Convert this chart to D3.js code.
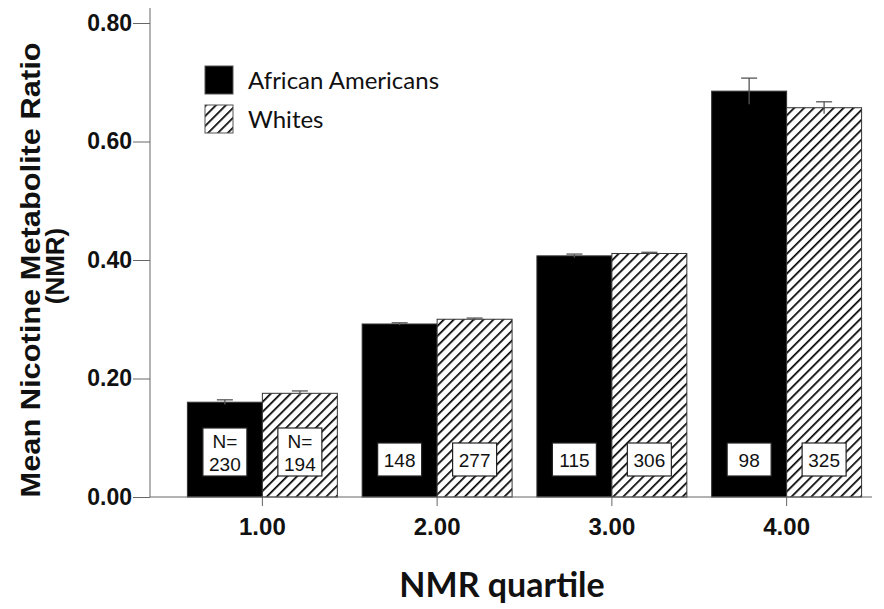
<!DOCTYPE html>
<html>
  <head>
    <meta charset="utf-8">
    <script src="https://cdn.jsdelivr.net/npm/d3@7"></script>
    <style>
      html, body { margin: 0; padding: 0; background: #fff; }
      svg { display: block; }
      .tick-label { font-family: "Liberation Sans", Arial, sans-serif; font-weight: bold; }
    </style>
  </head>
  <body>
    <svg width="884" height="609"></svg>
    <script>
      // data
      const quartiles = ["1.00", "2.00", "3.00", "4.00"];
      const series = ["African Americans", "Whites"];
      const meanAA = [0.160, 0.292, 0.407, 0.685];
      const meanW = [0.175, 0.300, 0.411, 0.657];
      const errAA = [0.004, 0.002, 0.003, 0.022];
      const errW = [0.004, 0.002, 0.002, 0.010];
      const nAA = [230, 148, 115, 98];
      const nW = [194, 277, 306, 325];
      const yTicks = [0, 0.2, 0.4, 0.6, 0.8];

      const rows = [];
      quartiles.forEach((q, i) => {
        rows.push({ q, s: series[0], mean: meanAA[i], err: errAA[i], n: nAA[i], first: i === 0 });
        rows.push({ q, s: series[1], mean: meanW[i], err: errW[i], n: nW[i], first: i === 0 });
      });

      const svg = d3.select("svg");
      const axisColor = "#666";

      const defs = svg.append("defs");
      const pat = defs.append("pattern")
        .attr("id", "hatch")
        .attr("patternUnits", "userSpaceOnUse")
        .attr("width", 7)
        .attr("height", 7)
        .attr("patternTransform", "rotate(45)");
      pat.append("rect").attr("width", 7).attr("height", 7).attr("fill", "#fff");
      pat.append("line")
        .attr("x1", 0).attr("y1", 0).attr("x2", 0).attr("y2", 7)
        .attr("stroke", "#000").attr("stroke-width", 3.4);

      const x = d3.scaleBand()
        .domain(quartiles)
        .range([175, 874])
        .paddingInner(0.142)
        .paddingOuter(0.071);
      const xs = d3.scaleBand().domain(series).range([0, x.bandwidth()]);
      const y = d3.scaleLinear().domain([0, 0.8]).range([497, 23]);
      const fill = d3.scaleOrdinal().domain(series).range(["#000", "url(#hatch)"]);

      // y axis
      const gy = svg.append("g")
        .attr("transform", "translate(150,0)")
        .call(d3.axisLeft(y).tickValues(yTicks).tickFormat(d3.format(".2f")).tickSize(17).tickPadding(1));
      gy.select(".domain").attr("d", "M0,8V497");
      gy.selectAll("line, path").attr("stroke", axisColor);
      gy.selectAll("text")
        .attr("class", "tick-label")
        .attr("font-size", 23)
        .attr("fill", "#111");

      // bars
      const g = svg.append("g");
      g.selectAll("rect.bar")
        .data(rows)
        .join("rect")
        .attr("class", "bar")
        .attr("x", d => x(d.q) + xs(d.s))
        .attr("y", d => y(d.mean))
        .attr("width", xs.bandwidth())
        .attr("height", d => y(0) - y(d.mean))
        .attr("fill", d => fill(d.s))
        .attr("stroke", "#333")
        .attr("stroke-width", 1);

      // error bars
      const eb = g.selectAll("g.err")
        .data(rows)
        .join("g")
        .attr("class", "err")
        .attr("stroke", "#555")
        .attr("stroke-width", 1.3);
      eb.append("line")
        .attr("x1", d => x(d.q) + xs(d.s) + xs.bandwidth() / 2)
        .attr("x2", d => x(d.q) + xs(d.s) + xs.bandwidth() / 2)
        .attr("y1", d => y(d.mean - d.err))
        .attr("y2", d => y(d.mean + d.err));
      eb.append("line")
        .attr("x1", d => x(d.q) + xs(d.s) + xs.bandwidth() / 2 - 8)
        .attr("x2", d => x(d.q) + xs(d.s) + xs.bandwidth() / 2 + 8)
        .attr("y1", d => y(d.mean + d.err))
        .attr("y2", d => y(d.mean + d.err));

      // N labels
      const nl = g.selectAll("g.nlab")
        .data(rows)
        .join("g")
        .attr("class", "nlab")
        .attr("transform", d => `translate(${x(d.q) + xs(d.s) + xs.bandwidth() / 2},476)`);
      nl.append("rect")
        .attr("x", -22)
        .attr("y", d => d.first ? -48 : -33)
        .attr("width", 44)
        .attr("height", d => d.first ? 48 : 33)
        .attr("fill", "#fff")
        .attr("stroke", "#222")
        .attr("stroke-width", 1.2);
      nl.append("text")
        .attr("text-anchor", "middle")
        .attr("font-family", "Liberation Sans, Arial, sans-serif")
        .attr("font-size", 19)
        .attr("fill", "#111")
        .each(function(d) {
          const t = d3.select(this);
          if (d.first) {
            t.append("tspan").attr("x", 0).attr("y", -28).text("N=");
            t.append("tspan").attr("x", 0).attr("y", -5).text(d.n);
          } else {
            t.append("tspan").attr("x", 0).attr("y", -9).text(d.n);
          }
        });

      // x axis
      const gx = svg.append("g")
        .attr("transform", "translate(0,497)")
        .call(d3.axisBottom(x).tickSize(9).tickPadding(12));
      gx.select(".domain").attr("d", "M150,0H872");
      gx.selectAll("line, path").attr("stroke", axisColor);
      gx.selectAll("text")
        .attr("class", "tick-label")
        .attr("font-size", 24)
        .attr("fill", "#111");

      // axis titles
      svg.append("text")
        .attr("transform", "translate(40,270) rotate(-90)")
        .attr("text-anchor", "middle")
        .attr("font-family", "Liberation Sans, Arial, sans-serif")
        .attr("font-weight", "bold")
        .attr("font-size", 27)
        .attr("textLength", 455)
        .attr("lengthAdjust", "spacingAndGlyphs")
        .attr("fill", "#111")
        .text("Mean Nicotine Metabolite Ratio");
      svg.append("text")
        .attr("transform", "translate(64,266) rotate(-90)")
        .attr("text-anchor", "middle")
        .attr("font-family", "Liberation Sans, Arial, sans-serif")
        .attr("font-weight", "bold")
        .attr("font-size", 26)
        .attr("fill", "#111")
        .text("(NMR)");

      svg.append("text")
        .attr("x", 502)
        .attr("y", 597)
        .attr("text-anchor", "middle")
        .attr("font-family", "Lato, 'Open Sans', sans-serif")
        .attr("font-weight", "bold")
        .attr("font-size", 34)
        .attr("fill", "#111")
        .text("NMR quartile");

      // legend
      const lg = svg.append("g").attr("transform", "translate(205,66)");
      const li = lg.selectAll("g")
        .data(series)
        .join("g")
        .attr("transform", (d, i) => `translate(0,${i * 39})`);
      li.append("rect")
        .attr("width", 28)
        .attr("height", 28)
        .attr("fill", d => fill(d))
        .attr("stroke", "#555")
        .attr("stroke-width", 1);
      li.append("text")
        .attr("x", 43)
        .attr("y", 23)
        .attr("font-family", "Lato, 'Open Sans', sans-serif")
        .attr("font-size", 24)
        .attr("fill", "#111")
        .text(d => d);
    </script>
  </body>
</html>
